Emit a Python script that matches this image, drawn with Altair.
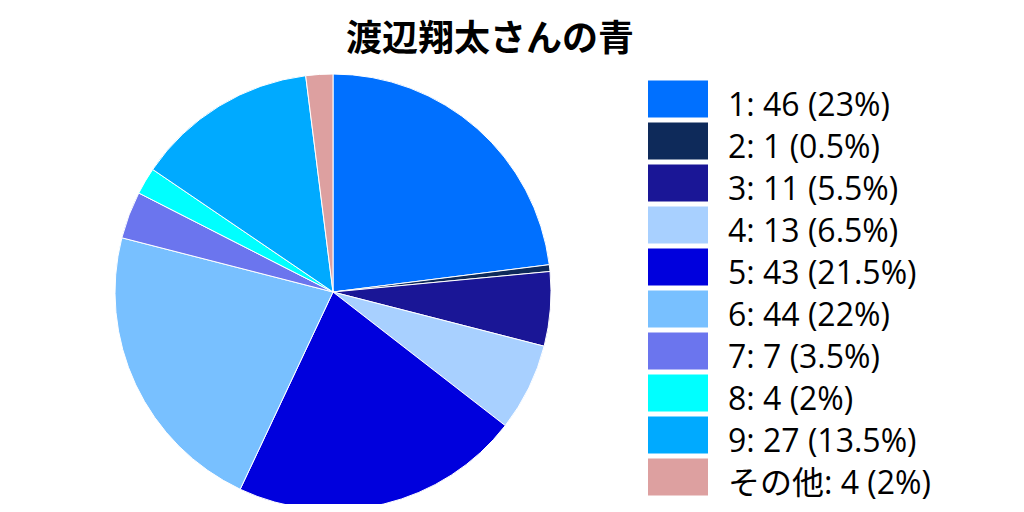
import altair as alt
import pandas as pd

title_text = "渡辺翔太さんの青"
categories = ["1", "2", "3", "4", "5", "6", "7", "8", "9", "その他"]
values = [46, 1, 11, 13, 43, 44, 7, 4, 27, 4]
colors = ["#0070FF", "#0E2A5A", "#1A1696", "#A8D0FF", "#0000DD",
          "#78C0FF", "#6B75EE", "#00FFFF", "#00AAFF", "#DDA0A0"]

total = sum(values)
def fmt(p):
    s = f"{p:.1f}"
    return s[:-2] if s.endswith(".0") else s

labels = [f"{c}: {v} ({fmt(v / total * 100)}%)" for c, v in zip(categories, values)]
df = pd.DataFrame({"cat": categories, "value": values, "label": labels,
                   "idx": list(range(len(categories)))})

FONT = "Open Sans, Noto Sans CJK JP"
TITLE_FONT = "Noto Sans CJK JP"
color_scale = alt.Scale(domain=categories, range=colors)

base = alt.Chart(df)

pie = base.mark_arc(outerRadius=218, stroke="white", strokeWidth=1).encode(
    theta=alt.Theta("value:Q", stack=True),
    order=alt.Order("idx:Q"),
    color=alt.Color("cat:N", scale=color_scale, legend=None),
    x=alt.value(325),
    y=alt.value(284),
)

yscale = alt.Scale(domain=categories, range=[70, 490], paddingInner=0.12, paddingOuter=0.06)

swatch = base.mark_rect().encode(
    y=alt.Y("cat:N", scale=yscale, axis=None),
    x=alt.value(640),
    x2=alt.value(700),
    color=alt.Color("cat:N", scale=color_scale, legend=None),
)

text = base.mark_text(align="left", baseline="middle", fontSize=32, font=FONT,
                      color="black", dy=7).encode(
    y=alt.Y("cat:N", scale=yscale, axis=None),
    x=alt.value(720),
    text="label:N",
)

title = alt.Chart(pd.DataFrame({"t": [title_text]})).mark_text(
    align="center", baseline="middle", fontSize=36, fontWeight="bold", font=TITLE_FONT,
    color="black").encode(
    x=alt.value(482), y=alt.value(32), text="t:N")

chart = alt.layer(pie, swatch, text, title).properties(
    width=1008, height=496, autosize=alt.AutoSizeParams(type="none"), padding=0
).configure_view(stroke=None)

chart.save("out.html", embed_options={"renderer": "svg", "actions": False})
